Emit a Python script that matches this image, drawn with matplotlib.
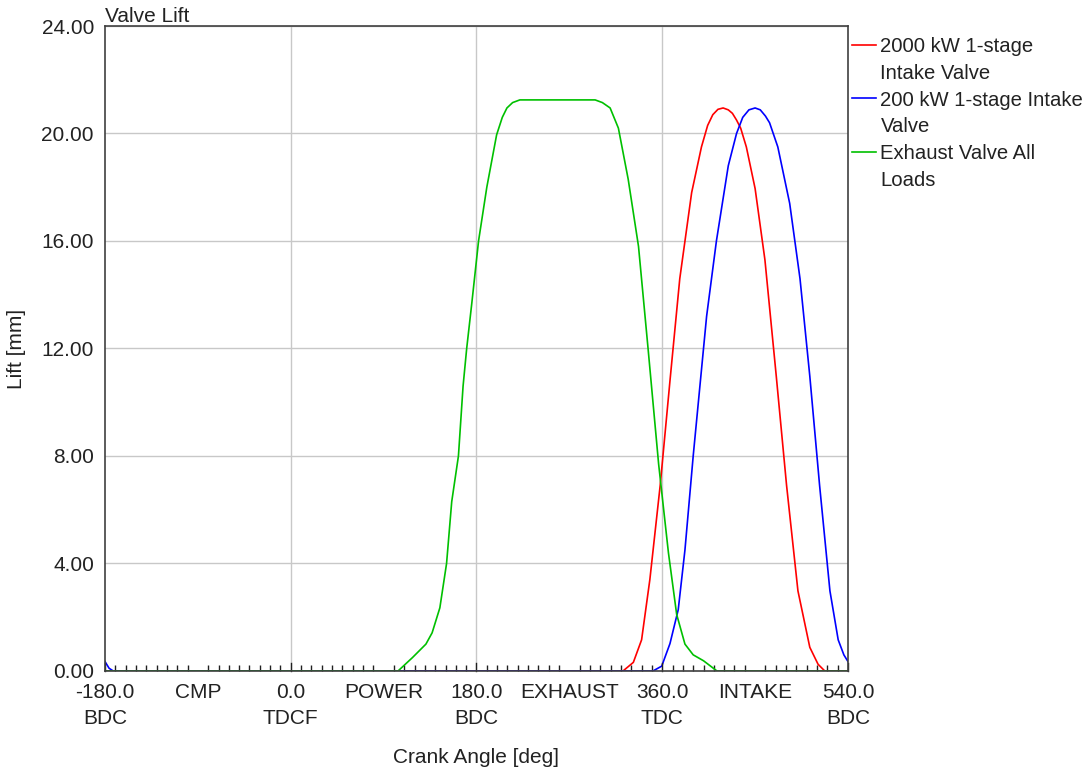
import matplotlib
matplotlib.use("Agg")
import matplotlib.pyplot as plt
from matplotlib.lines import Line2D
import numpy as np

plt.rcParams['font.family'] = ['Liberation Sans', 'DejaVu Sans']

# Kurbelwinkel [deg] / Hub [mm]
red_deg = [-180, 322, 332, 340, 348, 358, 367.5, 377, 388.5, 398, 404, 409, 414, 419, 424, 428,
           432, 436, 441.5, 450, 459.5, 470.5, 480.5, 491.5, 503, 511, 517.5, 540]
red_mm = [0, 0, 0.32, 1.16, 3.4, 6.9, 10.8, 14.6, 17.8, 19.5, 20.3, 20.7, 20.9, 20.95, 20.88,
          20.75, 20.5, 20.2, 19.5, 17.95, 15.3, 10.97, 6.9, 2.98, 0.88, 0.25, 0, 0]

blue_deg = [-180, -176, -172, 351, 359.5, 367.5, 375.5, 382, 390, 403, 412.5, 424, 432, 438,
            444, 450, 455, 460, 464, 472, 483.5, 493.5, 503, 512.5, 522.5, 530.5, 536, 540]
blue_mm = [0.35, 0.1, 0, 0, 0.18, 1.02, 2.28, 4.5, 8.0, 13.2, 16.0, 18.8, 20.0, 20.6,
           20.88, 20.95, 20.88, 20.65, 20.4, 19.5, 17.4, 14.6, 10.97, 6.9, 2.98, 1.16, 0.6, 0.35]

green_deg = [-180, 104, 118, 131, 137, 144.5, 151, 156, 162.5, 167, 170.5, 175.5, 182, 190,
             199.5, 205, 209.5, 215, 222, 295, 302, 309.5, 317.5, 327, 337, 346.5, 356.5,
             366, 374, 382, 390, 400, 413, 540]
green_mm = [0, 0, 0.5, 1.0, 1.42, 2.35, 4.0, 6.3, 8.0, 10.6, 12.0, 13.7, 16.0, 18.0,
            19.95, 20.6, 20.95, 21.15, 21.25, 21.25, 21.15, 20.95, 20.2, 18.3, 15.8, 11.9, 7.7,
            4.4, 2.1, 1.0, 0.6, 0.38, 0, 0]

# Legendentext, zweizeilig
label_lines = [['2000 kW 1-stage', 'Intake Valve'],
               ['200 kW 1-stage Intake', 'Valve'],
               ['Exhaust Valve All', 'Loads']]

major_ticks = [-180, -90, 0, 90, 180, 270, 360, 450, 540]
major_labels = ['-180.0\nBDC', 'CMP', '0.0\nTDCF', 'POWER', '180.0\nBDC', 'EXHAUST',
                '360.0\nTDC', 'INTAKE', '540.0\nBDC']
y_ticks = [0, 4, 8, 12, 16, 20, 24]

fs = 15
txt = '#222222'

fig = plt.figure(figsize=(10.88, 7.67), dpi=100)
ax = fig.add_axes([0.0965, 0.1252, 0.6829, 0.8409])

l_red, = ax.plot(red_deg, red_mm, color='#ff0000', lw=1.2)
l_blue, = ax.plot(blue_deg, blue_mm, color='#0000ff', lw=1.2)
l_green, = ax.plot(green_deg, green_mm, color='#00c000', lw=1.2)

ax.set_xlim(-180, 540)
ax.set_ylim(0, 24)

# Gitter
for gx in [0, 180, 360]:
    ax.axvline(gx, color='#c8c8c8', lw=1, zorder=0)
ax.set_yticks(y_ticks)
ax.set_yticklabels(['%.2f' % v for v in y_ticks])
ax.yaxis.grid(True, color='#c8c8c8', lw=1)
ax.set_axisbelow(True)

ax.set_xticks(major_ticks)
ax.set_xticklabels(major_labels, linespacing=1.45, va='top')
ax.set_xticks(np.arange(-180, 541, 10), minor=True)
ax.tick_params(axis='x', which='minor', direction='in', length=4, width=1, color='#202020')
ax.tick_params(axis='x', which='major', direction='in', length=0, pad=9, labelsize=fs, labelcolor=txt)
ax.tick_params(axis='y', length=0, pad=8, labelsize=fs, labelcolor=txt)
for mt in [-180, 0, 180, 360, 540]:
    ax.plot([mt, mt], [0, 0.3], color='#202020', lw=1, clip_on=False)

for s in ax.spines.values():
    s.set_color('#404040')
    s.set_linewidth(1.2)

ax.set_title('Valve Lift', loc='left', fontsize=fs, pad=3, color=txt)
ax.set_ylabel('Lift [mm]', fontsize=fs, labelpad=11, color=txt)
ax.set_xlabel('Crank Angle [deg]', fontsize=fs, labelpad=14, color=txt)

handles, texts = [], []
for ln, (first, second) in zip([l_red, l_blue, l_green], label_lines):
    handles += [ln, Line2D([], [], color='none')]
    texts += [first, second]
ax.legend(handles, texts, loc='upper left', bbox_to_anchor=(1.0, 0.989), frameon=False,
          fontsize=14.6, handlelength=1.2, handletextpad=0.2, borderaxespad=0.0,
          borderpad=0.2, labelspacing=0.38, labelcolor=txt)

fig.savefig('out.png', dpi=100)
